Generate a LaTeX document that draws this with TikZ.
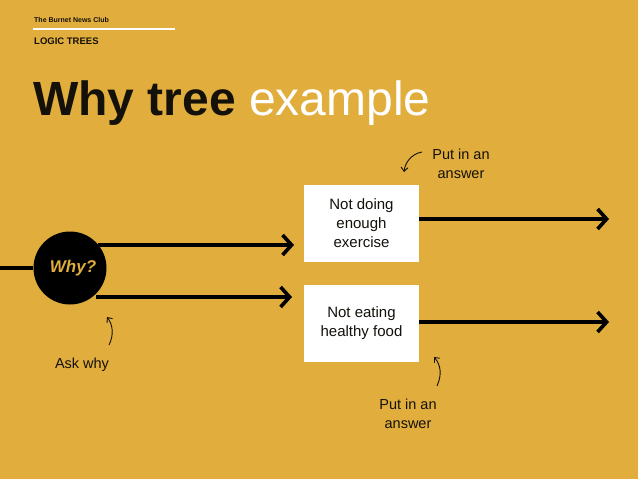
\documentclass[tikz,border=0pt]{standalone}
\usepackage{fontspec}
\setmainfont{Liberation Sans}
\usetikzlibrary{arrows.meta}
\definecolor{bg}{RGB}{225,174,61}
\definecolor{ink}{RGB}{20,16,10}
\tikzset{
  tree/.style={line width=3.6pt, draw=black, -{Straight Barb[length=9pt,width=20pt,line width=3.6pt]}},
  answerbox/.style={fill=white, minimum width=115pt, minimum height=77pt, align=center, inner sep=0pt, font=\fontsize{15}{19}\selectfont, text=ink},
  note/.style={align=center, font=\fontsize{14.5}{19}\selectfont, text=ink, inner sep=0pt},
  hint/.style={line width=0.9pt, draw=ink, -{Straight Barb[length=4pt,width=7pt,line width=0.9pt]}}
}
\begin{document}
\begin{tikzpicture}[x=1pt,y=-1pt]
\fill[bg] (0,0) rectangle (638,479);
\useasboundingbox (0,0) rectangle (638,479);
% header
\node[anchor=base west, inner sep=0pt, font=\fontsize{7}{8}\selectfont\bfseries, text=ink] (club) at (34,22) {The Burnet News Club};
\draw[white, line width=2pt] (33,29) -- (175,29);
\node[anchor=base west, inner sep=0pt, font=\fontsize{9.5}{11}\selectfont\bfseries, text=ink] (lt) at (34,44) {LOGIC TREES};
\node[anchor=base west, inner sep=0pt, font=\fontsize{48}{52}\selectfont] (title) at (33,115) {\textbf{\color{ink}Why tree} \color{white}example};
% circle
\node[circle, fill=black, minimum size=73pt, inner sep=0pt] (why) at (70,268) {};
\node[font=\fontsize{17}{20}\selectfont\bfseries\itshape, text=bg] (whyt) at (73,268) {Why?};
\coordinate (lin) at (0,268);
\draw[line width=3.6pt] (lin) -- (why.west);
% boxes
\node[answerbox] (b1) at (361.5,223.5) {Not doing\\enough\\exercise};
\node[answerbox] (b2) at (361.5,323.5) {Not eating\\healthy food};
\coordinate (a1s) at (98,245);
\coordinate (a1e) at (294,245);
\coordinate (a2s) at (96,297);
\coordinate (a2e) at (292,297);
\draw[tree] (a1s) -- (a1e);
\draw[tree] (a2s) -- (a2e);
\coordinate (r1) at (609,219);
\coordinate (r2) at (609,322);
\draw[tree] (b1.east |- r1) -- (r1);
\draw[tree] (b2.east |- r2) -- (r2);
% notes
\node[note] (n1) at (461,164) {Put in an\\answer};
\node[note] (n2) at (408,414) {Put in an\\answer};
\node[note, anchor=base] (n3) at (82,368) {Ask why};
\coordinate (h1s) at (422,152);
\coordinate (h1e) at (404,172);
\draw[hint] (h1s) .. controls (411,154) and (405,163) .. (h1e);
\coordinate (h2s) at (437,386);
\coordinate (h2e) at (434,357);
\draw[hint] (h2s) .. controls (442,375) and (441,365) .. (h2e);
\coordinate (h3s) at (109,345);
\coordinate (h3e) at (107,317);
\draw[hint] (h3s) .. controls (114,335) and (113,325) .. (h3e);
\end{tikzpicture}
\end{document}
